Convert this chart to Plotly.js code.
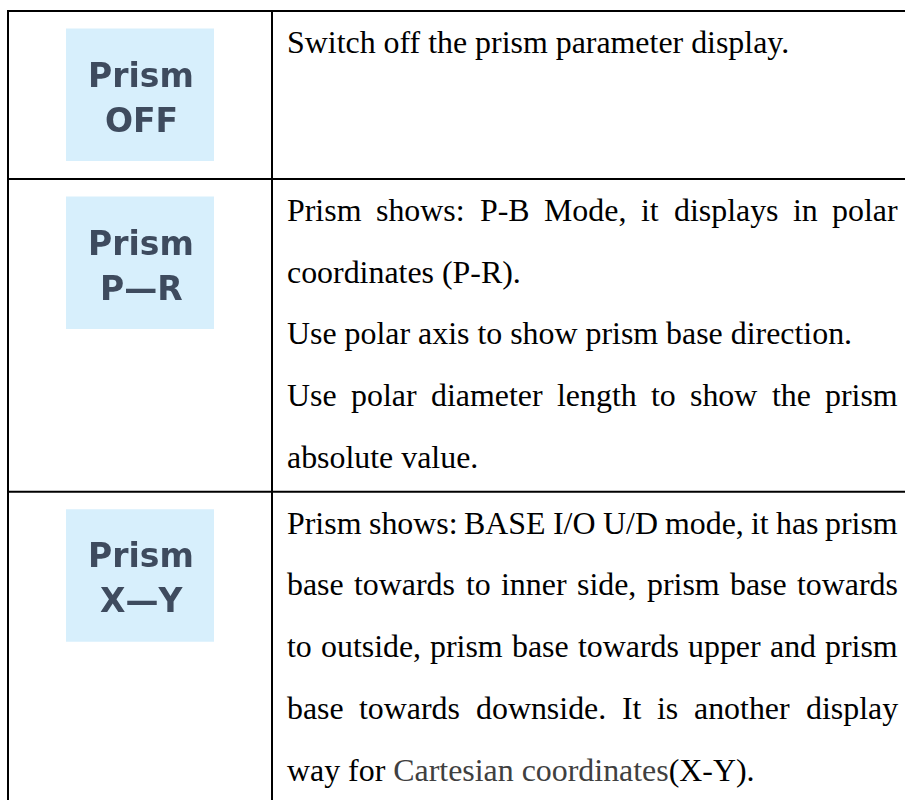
<!DOCTYPE html>
<html>
<head>
<meta charset="utf-8">
<script src="https://cdn.plot.ly/plotly-3.0.1.min.js"></script>
<style>
  html, body { margin: 0; padding: 0; background: #ffffff; }
  #chart { width: 905px; height: 800px; }
</style>
</head>
<body>
<div id="chart"></div>
<script>
// ---- data ----
const iconLine1 = ["Prism", "Prism", "Prism"];
const iconLine2 = ["OFF", "P\u2014R", "X\u2014Y"];

const row1Lines = ["Switch off the prism parameter display."];
const row1Justify = [false];

const row2Lines = [
  "Prism shows: P-B Mode, it displays in polar",
  "coordinates (P-R).",
  "Use polar axis to show prism base direction.",
  "Use polar diameter length to show the prism",
  "absolute value."
];
const row2Justify = [true, false, false, true, false];

const row3Lines = [
  "Prism shows: BASE I/O U/D mode, it has prism",
  "base towards to inner side, prism base towards",
  "to outside, prism base towards upper and prism",
  "base towards downside. It is another display",
  "way for Cartesian coordinates(X-Y)."
];
const row3Justify = [true, true, true, true, false];

const greyPhrases = ["Cartesian coordinates"];

// ---- layout constants ----
const W = 905, H = 800;
const rowTops = [11, 179, 491.7];
const tableBottom = 807;
const xLeft = 8, xDiv = 272, xRight = 915;
const textLeft = 287, textRight = 898;
const FONT_SIZE = 31.9;
const FONT_FAMILY = "'Liberation Serif', 'Times New Roman', serif";
const LINE_GAP = 61.7;
const ICON_FONT = "'DejaVu Sans', Verdana, sans-serif";

const canvas = document.createElement('canvas');
const ctx = canvas.getContext('2d');
ctx.font = FONT_SIZE + "px 'Liberation Serif'";
function tw(s) { return ctx.measureText(s).width; }

const shapes = [];
const annotations = [];

// grid lines
const lineStyle = {color: '#000000', width: 2};
rowTops.concat([tableBottom]).forEach(yv => {
  shapes.push({type: 'line', xref: 'x', yref: 'y', x0: xLeft - 1, x1: xRight, y0: yv, y1: yv, line: lineStyle});
});
[xLeft, xDiv].forEach(xv => {
  shapes.push({type: 'line', xref: 'x', yref: 'y', x0: xv, x1: xv, y0: rowTops[0] - 1, y1: tableBottom, line: lineStyle});
});

// icons
const iconIdx = [];
for (let i = 0; i < iconLine1.length; i++) {
  const t = rowTops[i];
  shapes.push({type: 'rect', xref: 'x', yref: 'y', x0: 66, x1: 214, y0: t + 17.5, y1: t + 150,
    fillcolor: '#d7effc', line: {width: 0}, layer: 'below'});
  [[iconLine1[i], 64], [iconLine2[i], 109]].forEach(([txt, dy]) => {
    iconIdx.push(annotations.length);
    annotations.push({xref: 'x', yref: 'y', x: 141, y: t + dy, text: txt, showarrow: false,
      xanchor: 'center', yanchor: 'middle', borderpad: 0, borderwidth: 0,
      font: {family: ICON_FONT, size: 33, weight: 'bold', color: '#3e4b5e'}});
  });
}

function addWord(x, y, text) {
  annotations.push({xref: 'x', yref: 'y', x: x, y: y, text: text, showarrow: false,
    xanchor: 'left', yanchor: 'middle', borderpad: 0, borderwidth: 0,
    font: {family: FONT_FAMILY, size: FONT_SIZE, color: '#000000'}});
}

function addRow(lines, justify, rowTop) {
  lines.forEach((line, i) => {
    const y = rowTop + 31.5 + i * LINE_GAP;
    if (justify[i]) {
      const words = line.split(' ');
      const widths = words.map(tw);
      const total = widths.reduce((a, b) => a + b, 0);
      const gap = (textRight - textLeft - total) / (words.length - 1);
      let x = textLeft;
      words.forEach((w, k) => { addWord(x, y, w); x += widths[k] + gap; });
    } else {
      let txt = line;
      greyPhrases.forEach(p => {
        txt = txt.split(p).join("<span style='color:#404040'>" + p + "</span>");
      });
      addWord(textLeft, y, txt);
    }
  });
}

addRow(row1Lines, row1Justify, rowTops[0]);
addRow(row2Lines, row2Justify, rowTops[1]);
addRow(row3Lines, row3Justify, rowTops[2]);

const layout = {
  width: W, height: H,
  margin: {l: 0, r: 0, t: 0, b: 0, pad: 0},
  paper_bgcolor: '#ffffff', plot_bgcolor: '#ffffff',
  showlegend: false,
  xaxis: {range: [0, W], visible: false, showgrid: false, zeroline: false, fixedrange: true},
  yaxis: {range: [H, 0], visible: false, showgrid: false, zeroline: false, fixedrange: true},
  shapes: shapes,
  annotations: annotations
};

Plotly.newPlot('chart', [], layout, {staticPlot: true, displayModeBar: false}).then(gd => {
  const groups = gd.querySelectorAll('.annotation');
  groups.forEach(g => {
    const idx = +g.getAttribute('data-index');
    if (iconIdx.indexOf(idx) >= 0) g.style.filter = 'blur(0.7px)';
  });
});
</script>
</body>
</html>
